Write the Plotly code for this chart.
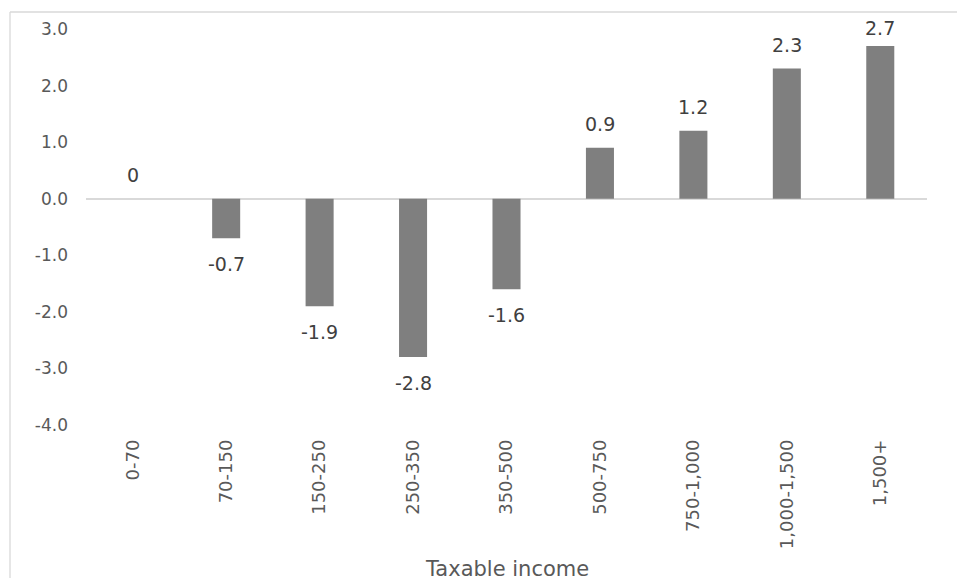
import plotly.graph_objects as go

categories = ["0-70", "70-150", "150-250", "250-350", "350-500",
              "500-750", "750-1,000", "1,000-1,500", "1,500+"]
values = [0, -0.7, -1.9, -2.8, -1.6, 0.9, 1.2, 2.3, 2.7]
tick_vals = [-4, -3, -2, -1, 0, 1, 2, 3]
tick_text = ["-4.0", "-3.0", "-2.0", "-1.0", "0.0", "1.0", "2.0", "3.0"]
x_title = "Taxable income"

W, H = 957, 578
ML, MR, MT, MB = 86, 30, 29, 153
PW, PH = W - ML - MR, H - MT - MB
YMIN, YMAX = -4, 3
PXU = PH / (YMAX - YMIN)

FONT = "DejaVu Sans"

fig = go.Figure()
fig.add_trace(go.Bar(
    x=categories, y=values,
    marker=dict(color="#7f7f7f", line=dict(width=0)),
    hoverinfo="skip",
))


def px_to_paper_x(px):
    return (px - ML) / PW


def px_to_paper_y(py):
    return (H - MB - py) / PH


annotations = []
for c, v in zip(categories, values):
    end_px = (YMAX - v) * PXU  # from top of plot
    if v >= 0:
        center = max(end_px - 24, -1)
    else:
        center = end_px + 26
    shift = end_px - center
    annotations.append(dict(
        x=c, y=v, xref="x", yref="y", text=f"{v:g}", showarrow=False,
        yanchor="middle", xanchor="center", yshift=shift,
        font=dict(family=FONT, size=19, color="#404040"),
    ))

# x-axis title (placed low, partially cut off like the reference)
annotations.append(dict(
    x=0.5, y=px_to_paper_y(569), xref="paper", yref="paper",
    text=x_title, showarrow=False, xanchor="center", yanchor="middle",
    font=dict(family=FONT, size=21, color="#595959"),
))

shapes = [
    dict(type="line", xref="paper", yref="paper",
         x0=px_to_paper_x(10), x1=px_to_paper_x(10),
         y0=px_to_paper_y(12), y1=px_to_paper_y(580),
         line=dict(color="#d9d9d9", width=1.3)),
    dict(type="line", xref="paper", yref="paper",
         x0=px_to_paper_x(10), x1=px_to_paper_x(960),
         y0=px_to_paper_y(12), y1=px_to_paper_y(12),
         line=dict(color="#d9d9d9", width=1.3)),
]

fig.update_layout(
    width=W, height=H,
    margin=dict(l=ML, r=MR, t=MT, b=MB, autoexpand=False),
    paper_bgcolor="white", plot_bgcolor="white",
    showlegend=False,
    bargap=0.7,
    annotations=annotations,
    shapes=shapes,
    font=dict(family=FONT, color="#595959"),
    xaxis=dict(
        tickangle=-90, showgrid=False, showline=False, zeroline=False,
        ticks="", tickfont=dict(family=FONT, size=18, color="#595959"),
        ticklabelstandoff=10, automargin=False,
    ),
    yaxis=dict(
        range=[YMIN, YMAX], tickvals=tick_vals, ticktext=tick_text,
        showgrid=False, showline=False, ticks="",
        zeroline=True, zerolinecolor="#d9d9d9", zerolinewidth=1.5,
        tickfont=dict(family=FONT, size=17, color="#595959"),
        ticklabelstandoff=17, automargin=False,
    ),
)

fig.write_html(
    "out.html",
    config={"displayModeBar": False},
    post_script="document.body.style.margin='0px';document.body.style.overflow='hidden';",
)
